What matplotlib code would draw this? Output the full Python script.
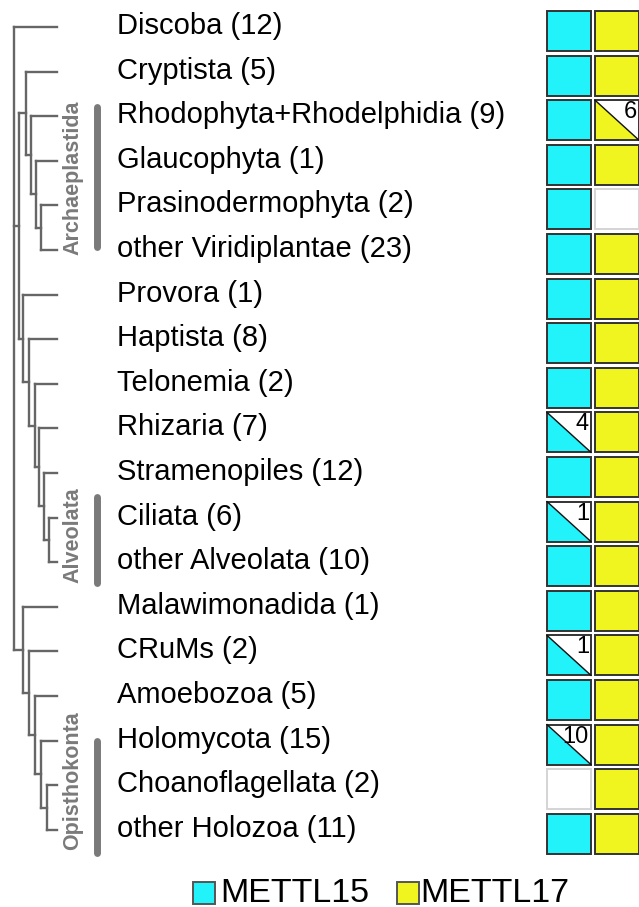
import matplotlib
matplotlib.use("Agg")
import matplotlib.pyplot as plt
from matplotlib.patches import Rectangle, Polygon

# ---------------- data ----------------
taxa = ["Discoba", "Cryptista", "Rhodophyta+Rhodelphidia", "Glaucophyta",
        "Prasinodermophyta", "other Viridiplantae", "Provora", "Haptista",
        "Telonemia", "Rhizaria", "Stramenopiles", "Ciliata", "other Alveolata",
        "Malawimonadida", "CRuMs", "Amoebozoa", "Holomycota",
        "Choanoflagellata", "other Holozoa"]
species_counts = [12, 5, 9, 1, 2, 23, 1, 8, 2, 7, 12, 6, 10, 1, 2, 5, 15, 2, 11]
# number of species lacking each gene
mettl15_missing = [0, 0, 0, 0, 0, 0, 0, 0, 0, 4, 0, 1, 0, 0, 1, 0, 10, 2, 0]
mettl17_missing = [0, 0, 6, 0, 2, 0, 0, 0, 0, 0, 0, 0, 0, 0, 0, 0, 0, 0, 0]
genes = ["METTL15", "METTL17"]
gene_colors = ["#22F2FA", "#F0F520"]

# tree topology with internal branch lengths
newick = ("(Discoba,((Cryptista,(Rhodophyta+Rhodelphidia,(Glaucophyta,"
          "(Prasinodermophyta,other Viridiplantae):5):5):5):7,"
          "(Provora,(Haptista,(Telonemia,(Rhizaria,(Stramenopiles,"
          "(Ciliata,other Alveolata):5):5):4):6):6):4):5,"
          "(Malawimonadida,(CRuMs,(Amoebozoa,(Holomycota,"
          "(Choanoflagellata,other Holozoa):6):6):6):6):9);")

clades = ["Archaeplastida", "Alveolata", "Opisthokonta"]
clade_first = ["Rhodophyta+Rhodelphidia", "Ciliata", "Holomycota"]
clade_last = ["other Viridiplantae", "other Alveolata", "other Holozoa"]

# ---------------- layout ----------------
W, H = 639, 907
row_y0, row_dy = 27, 44.6
root_x, tip_x = 14, 57
label_x = 117
box_w, box_h = 44, 40
box_x = [547, 595]
box_off = 4
tree_col = "#666666"
clade_col = "#7a7a7a"

fig = plt.figure(figsize=(W / 100, H / 100), dpi=100)
ax = fig.add_axes([0, 0, 1, 1])
ax.set_xlim(0, W)
ax.set_ylim(H, 0)
ax.axis("off")

row_y = {t: row_y0 + i * row_dy for i, t in enumerate(taxa)}


# ---- newick parser ----
def parse(s):
    pos = 0

    def node():
        nonlocal pos
        if s[pos] == "(":
            pos += 1
            kids = [node()]
            while s[pos] == ",":
                pos += 1
                kids.append(node())
            pos += 1  # ')'
            n = {"children": kids, "name": None}
        else:
            start = pos
            while s[pos] not in ",():;":
                pos += 1
            n = {"children": [], "name": s[start:pos]}
        bl = 0.0
        if s[pos] == ":":
            pos += 1
            start = pos
            while s[pos] not in ",();":
                pos += 1
            bl = float(s[start:pos])
        n["bl"] = bl
        return n

    return node()


tree = parse(newick)


def layout(n, x):
    n["x"] = x
    if not n["children"]:
        n["x"] = tip_x
        n["y"] = row_y[n["name"]]
        return
    for c in n["children"]:
        layout(c, x + c["bl"])
    n["y"] = (n["children"][0]["y"] + n["children"][-1]["y"]) / 2


layout(tree, root_x)


def draw(n):
    if not n["children"]:
        return
    ys = [c["y"] for c in n["children"]]
    ax.plot([n["x"], n["x"]], [min(ys), max(ys)], color=tree_col, lw=1.7,
            solid_capstyle="projecting")
    for c in n["children"]:
        ax.plot([n["x"], c["x"]], [c["y"], c["y"]], color=tree_col, lw=1.7,
                solid_capstyle="projecting")
        draw(c)


draw(tree)

# ---- labels ----
for t, c in zip(taxa, species_counts):
    ax.text(label_x, row_y[t] - 1, f"{t} ({c})", fontsize=21, va="center",
            ha="left", family="Liberation Sans", color="#000000")

# ---- clade bars ----
for name, a, b in zip(clades, clade_first, clade_last):
    ya, yb = row_y[a], row_y[b]
    mid = (ya + yb) / 2
    ax.text(73, mid - 5, name, rotation=90, fontsize=15.5, fontweight="bold",
            color=clade_col, ha="center", va="center", family="Liberation Sans")
    half = {"Archaeplastida": 70, "Alveolata": 43, "Opisthokonta": 56}[name]
    shift = {"Archaeplastida": -6, "Alveolata": 0, "Opisthokonta": 12}[name]
    ax.plot([97, 97], [mid + shift - half, mid + shift + half], color=clade_col,
            lw=5, solid_capstyle="round")

# ---- presence boxes ----
for i, t in enumerate(taxa):
    yc = row_y[t] + box_off
    top, bot = yc - box_h / 2, yc + box_h / 2
    for g, (missing, col) in enumerate(zip([mettl15_missing, mettl17_missing],
                                           gene_colors)):
        x0 = box_x[g]
        x1 = x0 + box_w
        m = missing[i]
        n = species_counts[i]
        if m == 0:
            ax.add_patch(Rectangle((x0, top), box_w, box_h, fc=col,
                                   ec="#333333", lw=1.4))
        elif m >= n:
            ax.add_patch(Rectangle((x0, top), box_w, box_h, fc="white",
                                   ec="#d4d4d4", lw=1.4))
        else:
            ax.add_patch(Rectangle((x0, top), box_w, box_h, fc="white",
                                   ec="none"))
            ax.add_patch(Polygon([(x0, top), (x0, bot), (x1, bot)],
                                 closed=True, fc=col, ec="none"))
            ax.plot([x0, x1], [top, bot], color="#111111", lw=1.0)
            ax.add_patch(Rectangle((x0, top), box_w, box_h, fc="none",
                                   ec="#333333", lw=1.4))
            ax.text(x1 - 2, top + 1, str(m), fontsize=17, ha="right",
                    va="top", family="Liberation Sans", color="#000000")

# ---- legend ----
leg_y = 892
for lx, tx, g, col in zip([193, 397], [220, 420], genes, gene_colors):
    ax.add_patch(Rectangle((lx, leg_y - 10.5), 22, 22, fc=col, ec="#555555",
                           lw=1.4))
    ax.text(tx, leg_y + 1, g, fontsize=24.5, ha="left", va="center",
            family="Liberation Sans", color="#000000")

fig.savefig("out.png", dpi=100)
